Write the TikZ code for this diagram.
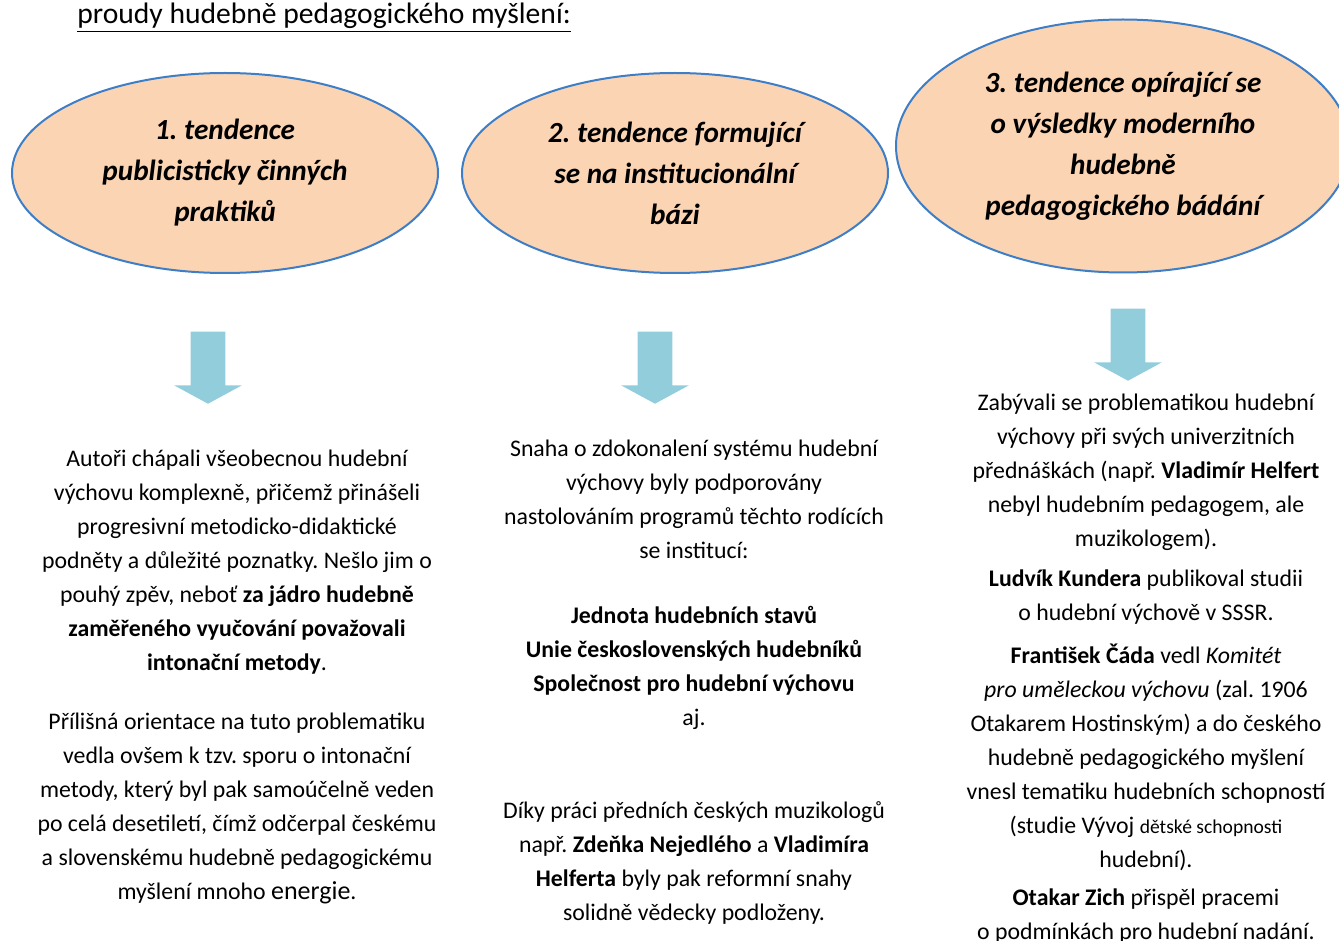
\documentclass[tikz,border=0pt]{standalone}
\usepackage{fontspec}
\setmainfont{Carlito}
\usetikzlibrary{shapes.geometric, shapes.arrows}
\definecolor{peach}{HTML}{FBD4B4}
\definecolor{rimblue}{HTML}{3D7EC6}
\definecolor{arrowblue}{HTML}{92CDDC}
\frenchspacing

\begin{document}
\begin{tikzpicture}[x=0.5pt, y=-0.5pt,
  tend/.style       = {ellipse, draw=rimblue, line width=1pt, fill=peach, align=center, inner sep=0pt,
                       font=\fontsize{14.6}{20.5}\selectfont\bfseries\itshape},
  blockarrow/.style = {single arrow, fill=arrowblue, draw=none, rotate=-90, inner xsep=0pt, inner ysep=8.5pt,
                       minimum height=36pt, single arrow head extend=8.25pt, single arrow tip angle=123},
  txt/.style        = {align=center, inner sep=0pt, font=\fontsize{11.9}{17}\selectfont},
]
\useasboundingbox (0,0) rectangle (1339,941);

% ---- heading ----------------------------------------------------------------
\node[anchor=base west, inner sep=0pt, font=\fontsize{14.8}{17}\selectfont] (title) at (77,24)
  {\underline{proudy hudebně pedagogického myšlení:}};

% ---- the three tendencies ---------------------------------------------------
\node[tend, minimum width=213pt, minimum height=100pt] (t1) at (225,173)
  {1. tendence\\publicisticky činných\\praktiků};
\node[tend, minimum width=213pt, minimum height=100pt] (t2) at (675,173)
  {2. tendence formující\\se na institucionální\\bázi};
\node[tend, minimum width=227pt, minimum height=126.5pt] (t3) at (1123,146)
  {3. tendence opírající se\\o výsledky moderního\\hudebně\\pedagogického bádání};

% ---- arrows -----------------------------------------------------------------
\node[blockarrow] (a1) at (208,363) {};
\node[blockarrow] (a2) at (655,363) {};
\node[blockarrow] (a3) at (1128,340) {};

% ---- column 1 ---------------------------------------------------------------
\node[txt] (p11) at (237,562)
  {Autoři chápali všeobecnou hudební\\
   výchovu komplexně, přičemž přinášeli\\
   progresivní metodicko-didaktické\\
   podněty a důležité poznatky. Nešlo jim o\\
   pouhý zpěv, neboť \textbf{za jádro hudebně}\\
   \textbf{zaměřeného vyučování považovali}\\
   \textbf{intonační metody}.};
\node[txt] (p12) at (237,808)
  {Přílišná orientace na tuto problematiku\\
   vedla ovšem k tzv. sporu o intonační\\
   metody, který byl pak samoúčelně veden\\
   po celá desetiletí, čímž odčerpal českému\\
   a slovenskému hudebně pedagogickému\\
   myšlení mnoho {\fontsize{13}{17}\selectfont energie}.};

% ---- column 2 ---------------------------------------------------------------
\node[txt] (p21) at (694,499)
  {Snaha o zdokonalení systému hudební\\
   výchovy byly podporovány\\
   nastolováním programů těchto rodících\\
   se institucí:};
\node[txt] (p22) at (694,668)
  {\textbf{Jednota hudebních stavů}\\
   \textbf{Unie československých hudebníků}\\
   \textbf{Společnost pro hudební výchovu}\\
   aj.};
\node[txt] (p23) at (694,863)
  {Díky práci předních českých muzikologů\\
   např. \textbf{Zdeňka Nejedlého} a \textbf{Vladimíra}\\
   \textbf{Helferta} byly pak reformní snahy\\
   solidně vědecky podloženy.};

% ---- column 3 ---------------------------------------------------------------
\node[txt] (p31) at (1146,472)
  {Zabývali se problematikou hudební\\
   výchovy při svých univerzitních\\
   přednáškách (např. \textbf{Vladimír Helfert}\\
   nebyl hudebním pedagogem, ale\\
   muzikologem).};
\node[txt] (p32) at (1146,597)
  {\textbf{Ludvík Kundera} publikoval studii\\
   o hudební výchově v SSSR.};
\node[txt] (p33) at (1146,757)
  {\textbf{František Čáda} vedl \textit{Komitét}\\
   \textit{pro uměleckou výchovu} (zal. 1906\\
   Otakarem Hostinským) a do českého\\
   hudebně pedagogického myšlení\\
   vnesl tematiku hudebních schopností\\
   (studie Vývoj {\fontsize{9.8}{17}\selectfont dětské schopnosti}\\
   hudební).};
\node[txt] (p34) at (1146,916)
  {\textbf{Otakar Zich} přispěl pracemi\\
   o podmínkách pro hudební nadání.};

\end{tikzpicture}
\end{document}
